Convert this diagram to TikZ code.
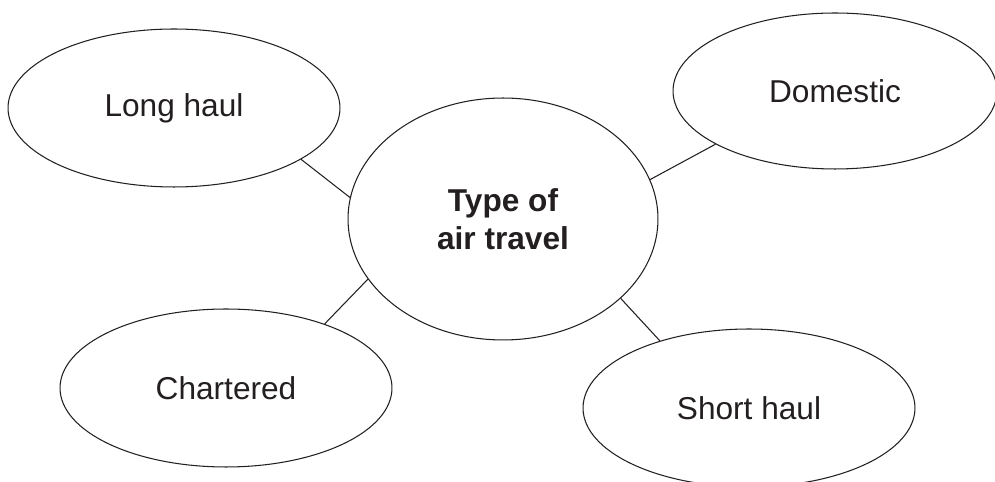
\documentclass[tikz,border=0pt]{standalone}
\usepackage{fontspec}
\setmainfont{Liberation Sans}
\usetikzlibrary{shapes.geometric}
\definecolor{ink}{HTML}{231F20}
\begin{document}
\begin{tikzpicture}[x=0.02cm,y=-0.02cm,
  bubble/.style={ellipse,draw=ink,line width=0.6pt,inner sep=0pt,
    text=ink,font=\fontsize{18}{21}\selectfont,align=center},
  leaf/.style={bubble,minimum width=6.64cm,minimum height=3.16cm},
  link/.style={draw=ink,line width=0.6pt}]
\useasboundingbox (0,0) rectangle (995,482);
% central topic
\node[bubble,minimum width=6.2cm,minimum height=4.84cm,
  font=\fontsize{18}{21.5}\selectfont\bfseries] (hub) at (503,219) {Type of\\air travel};
% the four kinds of air travel
\node[leaf] (long) at (174,108) {Long haul};
\node[leaf,minimum width=6.48cm,minimum height=3.12cm] (dom) at (835,91) {Domestic};
\node[leaf] (chart) at (226,388) {Chartered};
\node[leaf] (short) at (749,408) {Short haul};
% spokes
\draw[link] (long.-22.4) -- (hub.172.2);
\draw[link] (dom.204.8) -- (hub.15.6);
\draw[link] (chart.33.3) -- (hub.204.7);
\draw[link] (short.143.6) -- (hub.-34.2);
\end{tikzpicture}
\end{document}
